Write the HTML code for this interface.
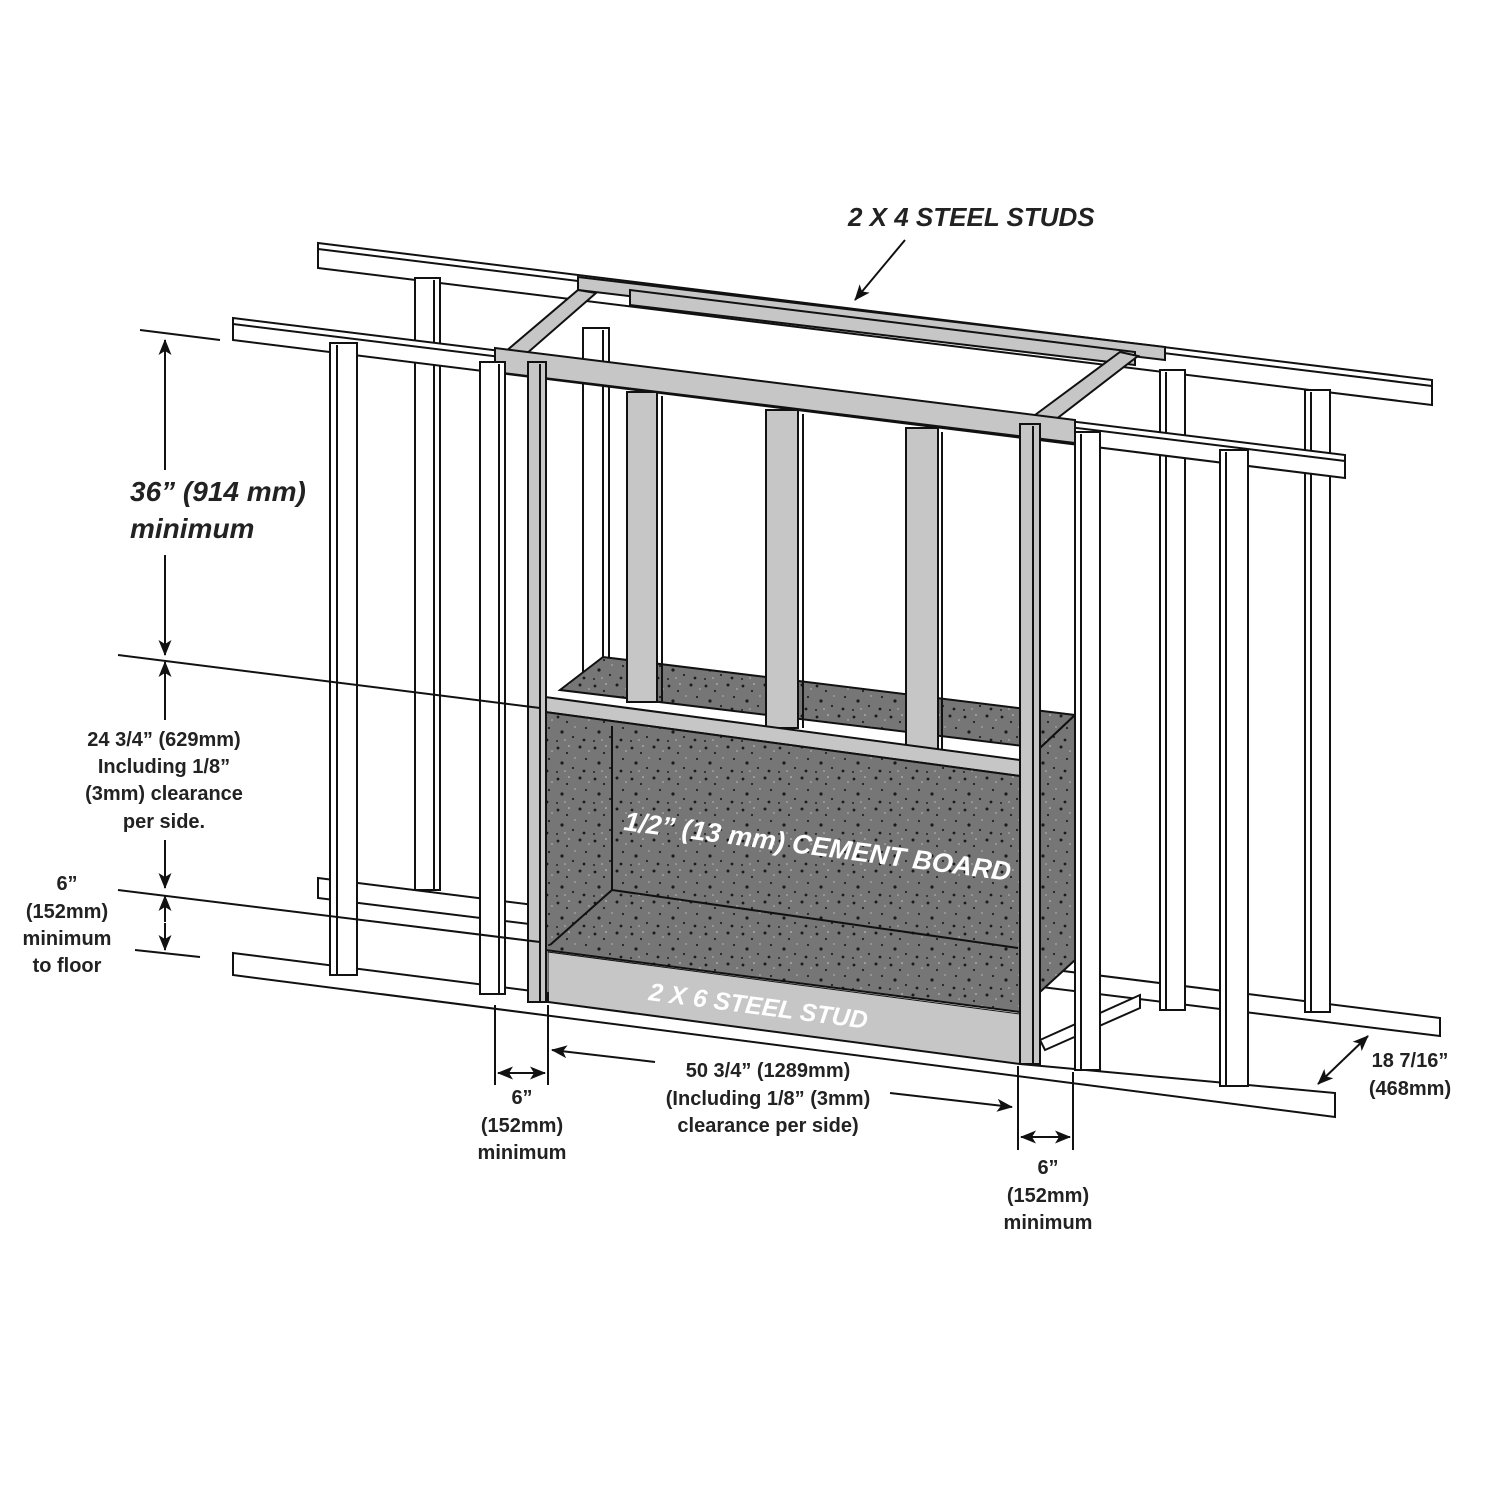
<!DOCTYPE html>
<html><head><meta charset="utf-8"><style>
html,body{margin:0;padding:0;background:#fff}
svg{display:block}
text{font-family:"Liberation Sans",sans-serif;font-weight:bold;fill:#222}
</style></head><body>
<svg width="1500" height="1500" viewBox="0 0 1500 1500" xmlns="http://www.w3.org/2000/svg">
<defs>
<pattern id="sp" width="37" height="31" patternUnits="userSpaceOnUse">
<rect width="37" height="31" fill="#767676"/>
<circle cx="3" cy="4" r="1.4" fill="#1a1a1a"/><circle cx="12" cy="9" r="1.1" fill="#222"/>
<circle cx="25" cy="3" r="1.5" fill="#1a1a1a"/><circle cx="31" cy="15" r="1.1" fill="#222"/>
<circle cx="7" cy="19" r="1.6" fill="#1a1a1a"/><circle cx="18" cy="24" r="1.1" fill="#222"/>
<circle cx="29" cy="27" r="1.4" fill="#1a1a1a"/><circle cx="20" cy="14" r="0.9" fill="#aaa"/>
<circle cx="2" cy="28" r="1" fill="#222"/><circle cx="34" cy="7" r="0.8" fill="#bbb"/>
<circle cx="14" cy="2" r="0.8" fill="#ccc"/><circle cx="10" cy="27" r="0.8" fill="#bbb"/>
</pattern>
<marker id="ah" markerWidth="16" markerHeight="13" refX="15" refY="6.5" orient="auto" markerUnits="userSpaceOnUse">
<path d="M0,0 L16,6.5 L0,13 L4,6.5 Z" fill="#111"/></marker>
</defs>
<g stroke="#111" stroke-width="2" fill="#fff">
<polygon points="318,243 1432,380 1432,405 318,268"/>
<line x1="318" y1="249" x2="1432" y2="386"/>
<polygon points="318,878 1440,1018 1440,1036 318,898"/>
<rect x="415" y="278" width="25" height="612"/><line x1="434" y1="280" x2="434" y2="890"/>
<rect x="1160" y="370" width="25" height="640"/><line x1="1166" y1="372" x2="1166" y2="1010"/>
<rect x="1305" y="390" width="25" height="622"/><line x1="1311" y1="392" x2="1311" y2="1012"/>
<rect x="583" y="328" width="26" height="360"/><line x1="603" y1="330" x2="603" y2="688"/>
</g>
<g stroke="#111" stroke-width="2" fill="#c6c6c6">
<polygon points="578,277 1165,347 1165,360 578,290"/>
<polygon points="630,290 1135,352 1135,365 630,305"/>
<polygon points="505,352 578,290 596,293 525,355"/>
<polygon points="1035,415 1120,352 1138,356 1055,420"/>
</g>
<g stroke="#111" stroke-width="2" fill="url(#sp)">
<polygon points="560,690 603,657 1075,715 1040,748"/>
<polygon points="1040,748 1075,715 1075,960 1040,992"/>
</g>
<g stroke="#111" stroke-width="2" fill="#fff">
<polygon points="233,318 1345,455 1345,478 233,340"/>
<line x1="233" y1="324" x2="1345" y2="461"/>
</g>
<g stroke="#111" stroke-width="2" fill="#c6c6c6">
<polygon points="495,348 1075,420 1075,443 495,372"/>
<rect x="627" y="392" width="30" height="310"/><line x1="662" y1="396" x2="662" y2="702"/>
<rect x="766" y="410" width="32" height="318"/><line x1="803" y1="414" x2="803" y2="728"/>
<rect x="906" y="428" width="32" height="322"/><line x1="942" y1="432" x2="942" y2="750"/>
<polygon points="545,697 1020,760 1020,776 545,712"/>
</g>
<g stroke="#111" stroke-width="2" fill="url(#sp)">
<polygon points="545,712 1020,776 1020,1012 545,950"/>
</g>
<g stroke="#111" stroke-width="2" fill="none">
<polyline points="612,726 612,890 1018,948"/>
<line x1="612" y1="890" x2="550" y2="945"/>
</g>
<polygon points="548,952 1020,1014 1020,1064 548,1002" fill="#c6c6c6" stroke="#111" stroke-width="1"/>
<g stroke="#111" stroke-width="2" fill="#fff">
<polygon points="233,953 548,993 548,1002 1020,1064 1335,1093 1335,1117 233,975"/>
<polygon points="1040,1040 1140,995 1140,1008 1045,1050"/>
</g>
<g stroke="#111" stroke-width="2" fill="#fff">
<rect x="330" y="343" width="27" height="632"/><line x1="337" y1="345" x2="337" y2="975"/>
<rect x="480" y="362" width="25" height="632"/><line x1="499" y1="364" x2="499" y2="994"/>
<rect x="1075" y="432" width="25" height="638"/><line x1="1081" y1="434" x2="1081" y2="1070"/>
<rect x="1220" y="450" width="28" height="636"/><line x1="1226" y1="452" x2="1226" y2="1086"/>
</g>
<g stroke="#111" stroke-width="2" fill="#c6c6c6">
<rect x="528" y="362" width="18" height="640"/><line x1="540" y1="364" x2="540" y2="1002"/>
<rect x="1020" y="424" width="20" height="640"/><line x1="1033" y1="426" x2="1033" y2="1064"/>
</g>
<g stroke="#111" stroke-width="2" fill="none">
<line x1="140" y1="330" x2="220" y2="340"/>
<line x1="118" y1="655" x2="540" y2="708"/>
<line x1="118" y1="890" x2="540" y2="942"/>
<line x1="135" y1="950" x2="200" y2="957"/>
<line x1="165" y1="470" x2="165" y2="340" marker-end="url(#ah)"/>
<line x1="165" y1="555" x2="165" y2="655" marker-end="url(#ah)"/>
<line x1="165" y1="720" x2="165" y2="662" marker-end="url(#ah)"/>
<line x1="165" y1="840" x2="165" y2="888" marker-end="url(#ah)"/>
<line x1="165" y1="922" x2="165" y2="896" marker-end="url(#ah)"/>
<line x1="165" y1="923" x2="165" y2="950" marker-end="url(#ah)"/>
<line x1="495" y1="1005" x2="495" y2="1085"/>
<line x1="548" y1="1005" x2="548" y2="1085"/>
<line x1="1018" y1="1066" x2="1018" y2="1150"/>
<line x1="1073" y1="1072" x2="1073" y2="1150"/>
<line x1="521" y1="1073" x2="498" y2="1073" marker-end="url(#ah)"/>
<line x1="521" y1="1073" x2="545" y2="1073" marker-end="url(#ah)"/>
<line x1="655" y1="1062" x2="552" y2="1050" marker-end="url(#ah)"/>
<line x1="890" y1="1093" x2="1012" y2="1107" marker-end="url(#ah)"/>
<line x1="1046" y1="1137" x2="1021" y2="1137" marker-end="url(#ah)"/>
<line x1="1046" y1="1137" x2="1070" y2="1137" marker-end="url(#ah)"/>
<line x1="1343" y1="1060" x2="1318" y2="1084" marker-end="url(#ah)"/>
<line x1="1343" y1="1060" x2="1368" y2="1036" marker-end="url(#ah)"/>
<line x1="905" y1="240" x2="855" y2="300" marker-end="url(#ah)"/>
</g>
<text x="848" y="226" font-size="26" font-style="italic">2 X 4 STEEL STUDS</text>
<text x="130" y="501" font-size="28" font-style="italic">36” (914 mm)</text>
<text x="130" y="538" font-size="28" font-style="italic">minimum</text>
<g font-size="20" text-anchor="middle">
<text x="164" y="746">24 3/4” (629mm)</text>
<text x="164" y="773">Including 1/8”</text>
<text x="164" y="800">(3mm) clearance</text>
<text x="164" y="828">per side.</text>
<text x="67" y="890">6”</text>
<text x="67" y="918">(152mm)</text>
<text x="67" y="945">minimum</text>
<text x="67" y="972">to floor</text>
<text x="522" y="1104">6”</text>
<text x="522" y="1132">(152mm)</text>
<text x="522" y="1159">minimum</text>
<text x="768" y="1077">50 3/4” (1289mm)</text>
<text x="768" y="1105">(Including 1/8” (3mm)</text>
<text x="768" y="1132">clearance per side)</text>
<text x="1048" y="1174">6”</text>
<text x="1048" y="1202">(152mm)</text>
<text x="1048" y="1229">minimum</text>
<text x="1410" y="1067">18 7/16”</text>
<text x="1410" y="1095">(468mm)</text>
</g>
<text x="0" y="0" font-size="27" font-style="italic" style="fill:#fff" transform="translate(623,830) rotate(7.5)">1/2” (13 mm) CEMENT BOARD</text>
<text x="0" y="0" font-size="25" font-style="italic" style="fill:#fff" transform="translate(648,1000) rotate(7.5)">2 X 6 STEEL STUD</text>
</svg>
</body></html>
